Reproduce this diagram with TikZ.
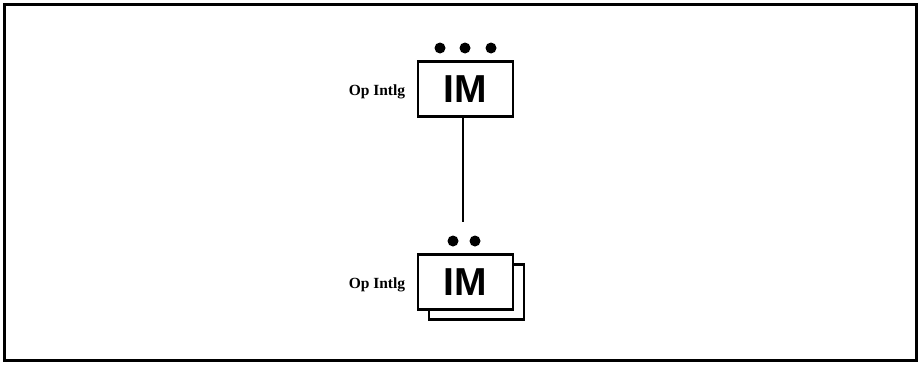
\documentclass[tikz,border=0pt]{standalone}
\usepackage{fontspec}
\setmainfont{Liberation Serif}
\newfontfamily\arialfont{Liberation Sans}
\begin{document}
\begin{tikzpicture}[x=1pt,y=-1pt,
  frame/.style={draw=black,line width=3pt},
  unitbox/.style={draw=black,line width=2.5pt,fill=white,minimum width=95pt,minimum height=55pt,inner sep=0pt,
    font=\arialfont\bfseries\fontsize{39}{39}\selectfont},
  caption/.style={font=\bfseries\fontsize{15.5}{15.5}\selectfont,inner sep=0pt},
  dot/.style={fill=black,circle,minimum size=11pt,inner sep=0pt},
  link/.style={draw=black,line width=1.6pt}]
  \useasboundingbox (0,0) rectangle (918,364);
  \draw[frame] (4.5,4.5) rectangle (916.5,360);
  % upper unit
  \node[unitbox] (top) at (465.5,89) {IM};
  \node[caption] (toplab) at (377,92) {Op Intlg};
  \node[dot] (t1) at (440,48) {};
  \node[dot] (t2) at (465,48) {};
  \node[dot] (t3) at (491,48) {};
  % lower unit: stacked boxes
  \node[unitbox] (backbox) at (476.5,292) {};
  \node[unitbox] (bot) at (465.5,282) {IM};
  \node[caption] (botlab) at (377,285) {Op Intlg};
  \node[dot] (b1) at (453,241) {};
  \node[dot] (b2) at (475,241) {};
  \coordinate (linkend) at (463,222);
  \draw[link] (top.south -| linkend) -- (linkend);
\end{tikzpicture}
\end{document}
